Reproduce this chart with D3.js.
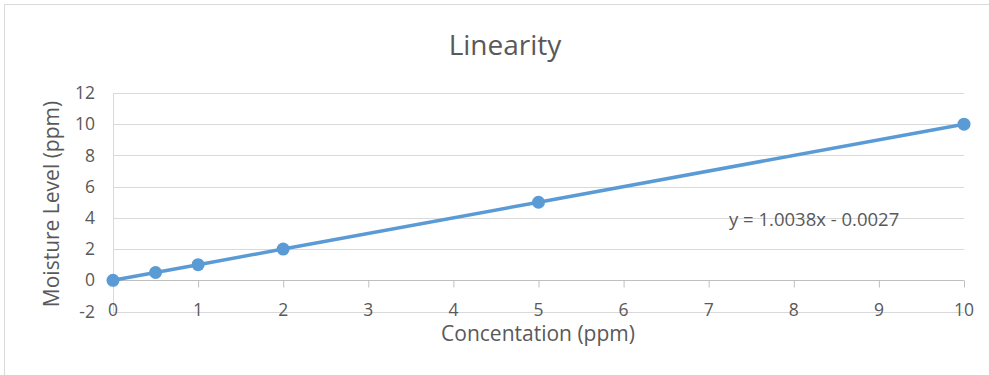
<!DOCTYPE html>
<html><head><meta charset="utf-8">
<script src="https://cdn.jsdelivr.net/npm/d3@7"></script>
<style>html,body{margin:0;padding:0;background:#fff;}</style>
</head><body>
<svg id="c" width="989" height="375"></svg>
<script>
const xValues = [0, 0.5, 1, 2, 5, 10];
const yValues = [0, 0.5, 1, 2, 5, 10];
const xTicks = [0,1,2,3,4,5,6,7,8,9,10];
const yTicks = [-2,0,2,4,6,8,10,12];
const title = "Linearity";
const xTitle = "Concentation (ppm)";
const yTitle = "Moisture Level (ppm)";
const equation = "y = 1.0038x - 0.0027";

const svg = d3.select("#c");
const font = "'Open Sans', sans-serif";
const txt = "#595959";
svg.append("rect").attr("x",4.5).attr("y",4.5).attr("width",1100).attr("height",500)
  .attr("fill","#fff").attr("stroke","#d9d9d9");

const x = d3.scaleLinear().domain([0,10]).range([113,964]);
const y = d3.scaleLinear().domain([-2,12]).range([311.5,93]);

// gridlines
svg.append("g").selectAll("line").data(yTicks).join("line")
  .attr("x1",x(0)).attr("x2",x(10))
  .attr("y1",d=>Math.round(y(d))+0.5).attr("y2",d=>Math.round(y(d))+0.5)
  .attr("stroke","#d9d9d9").attr("stroke-width",1);

// y axis line
svg.append("line").attr("x1",x(0)+0.5).attr("x2",x(0)+0.5)
  .attr("y1",y(12)).attr("y2",y(-2)).attr("stroke","#d9d9d9");

// y tick labels
svg.append("g").selectAll("text").data(yTicks).join("text")
  .attr("x",95).attr("y",d=>y(d)).attr("dy","0.35em")
  .attr("text-anchor","end").attr("font-family",font).attr("font-size",17.5)
  .attr("fill",txt).text(d=>d);

// x axis at y=0
const xAxis = d3.axisBottom(x).tickValues(xTicks).tickSize(7).tickFormat("");
const gx = svg.append("g").attr("transform",`translate(0,${Math.round(y(0))+0.5})`).call(xAxis);
gx.select(".domain").attr("stroke","#bfbfbf").attr("d",`M${x(0)},0H${x(10)}`);
gx.selectAll(".tick line").attr("stroke","#bfbfbf");

// x tick labels
svg.append("g").selectAll("text").data(xTicks).join("text")
  .attr("x",d=>x(d)).attr("y",316)
  .attr("text-anchor","middle").attr("font-family",font).attr("font-size",17.5)
  .attr("fill",txt).text(d=>d);

// series line
const line = d3.line().x((d,i)=>x(xValues[i])).y((d,i)=>y(yValues[i]));
svg.append("path").datum(xValues).attr("d",line)
  .attr("fill","none").attr("stroke","#5b9bd5").attr("stroke-width",3.5);
svg.append("g").selectAll("circle").data(xValues).join("circle")
  .attr("cx",(d,i)=>x(xValues[i])).attr("cy",(d,i)=>y(yValues[i])).attr("r",6.5)
  .attr("fill","#5b9bd5");

// equation
svg.append("text").attr("x",729).attr("y",226).attr("font-family",font)
  .attr("font-size",18.5).attr("fill",txt).text(equation);

// titles
svg.append("text").attr("x",505).attr("y",55).attr("text-anchor","middle")
  .attr("font-family",font).attr("font-size",28).attr("fill",txt).text(title);
svg.append("text").attr("x",538).attr("y",341).attr("text-anchor","middle")
  .attr("font-family",font).attr("font-size",21).attr("fill",txt).text(xTitle);
svg.append("text").attr("transform","translate(59,204) rotate(-90)").attr("text-anchor","middle")
  .attr("font-family",font).attr("font-size",21).attr("fill",txt).text(yTitle);
</script>
</body></html>
